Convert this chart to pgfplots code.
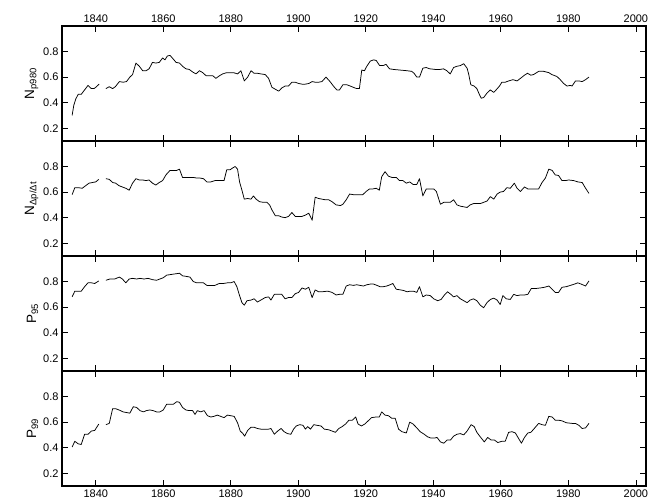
\documentclass[border=0pt]{standalone}
\usepackage{fontspec}
\setmainfont{Liberation Sans}
\usepackage{pgfplots}
\pgfplotsset{compat=1.18}
\pgfplotsset{
  panel/.style={
    scale only axis, width=584pt, height=115pt,
    xmin=1830, xmax=2003, ymin=0.1, ymax=1.0,
    xtick={1840,1860,...,2000}, ytick={0.2,0.4,0.6,0.8},
    tick align=inside, xtick pos=both, ytick pos=both,
    yticklabel pos=left,
    major tick length=6pt,
    axis line style={line width=1.1pt},
    every tick/.style={black, line width=0.7pt},
    tick label style={font=\fontsize{11}{13}\selectfont},
    yticklabel style={/pgf/number format/fixed, /pgf/number format/precision=1, /pgf/number format/fixed zerofill},
    /pgf/number format/assume math mode=true,
    scaled ticks=false,
    xticklabel={\pgfmathprintnumber[1000 sep={}]{\tick}},
    ylabel style={font=\fontsize{13.5}{15}\selectfont, yshift=-2pt},
    unbounded coords=jump,
    clip=false,
  },
  dline/.style={black, line width=0.75pt, line join=round},
}
\begin{document}
\begin{tikzpicture}
\path[use as bounding box] (0,0) rectangle (661pt,501pt);
% Panel 1
\begin{axis}[panel, at={(62pt,360pt)}, anchor=south west,
  xticklabel pos=upper, ylabel={N\textsubscript{p980}}]
\addplot[dline] coordinates {
(1833,0.30) (1833.5,0.38) (1834.1,0.43) (1834.8,0.465) (1835.7,0.465) (1836.7,0.50) (1837.7,0.535) (1838.7,0.51) (1839.5,0.51) (1840.2,0.525) (1841,0.545)
(1842,nan)
(1843,0.51) (1844,0.525) (1845,0.51) (1845.8,0.525) (1847,0.565) (1848.1,0.56) (1849.1,0.565) (1850.1,0.60) (1850.9,0.62) (1851.9,0.71) (1852.9,0.685) (1853.9,0.65) (1854.9,0.65) (1855.8,0.665) (1856.8,0.715) (1857.8,0.71) (1858.8,0.715) (1859.8,0.75) (1860.5,0.735) (1861.2,0.765) (1862,0.77) (1863,0.74) (1863.8,0.715) (1864.8,0.71) (1865.7,0.685) (1866.7,0.665) (1867.7,0.66) (1868.7,0.64) (1869.7,0.625) (1870.7,0.65) (1871.7,0.635) (1872.7,0.61) (1873.7,0.61) (1874.7,0.61) (1875.6,0.59) (1876.6,0.61) (1877.6,0.625) (1878.8,0.635) (1879.8,0.635) (1880.8,0.635) (1882,0.625) (1883,0.65) (1884,0.57) (1885,0.60) (1886,0.65) (1886.9,0.63) (1887.9,0.63) (1888.9,0.625) (1890.2,0.62) (1891.2,0.59) (1892.2,0.52) (1893.2,0.505) (1894.2,0.49) (1895.1,0.515) (1896.1,0.53) (1897.1,0.53) (1898.1,0.56) (1899.1,0.56) (1900.1,0.55) (1901.1,0.545) (1902.1,0.545) (1903.1,0.55) (1904.1,0.565) (1905,0.56) (1906,0.56) (1907,0.565) (1908.2,0.60) (1909.4,0.565) (1910.4,0.53) (1911.4,0.50) (1912.2,0.50) (1913.2,0.54) (1914.4,0.54) (1915.4,0.53) (1916.3,0.52) (1917.3,0.51) (1918.1,0.51) (1918.8,0.655) (1919.6,0.65) (1920.3,0.685) (1921.3,0.725) (1922.3,0.735) (1923.1,0.73) (1924.1,0.69) (1925.1,0.69) (1926,0.70) (1927,0.665) (1928.2,0.66) (1930.2,0.655) (1932.2,0.65) (1933.6,0.645) (1934.3,0.63) (1935.1,0.60) (1935.9,0.60) (1936.9,0.67) (1937.9,0.675) (1938.9,0.665) (1940.6,0.66) (1942,0.66) (1943,0.665) (1944,0.65) (1945,0.625) (1946,0.675) (1947,0.685) (1948,0.69) (1949,0.705) (1950,0.67) (1950.5,0.62) (1951.1,0.54) (1952.1,0.53) (1952.9,0.51) (1953.7,0.46) (1954.2,0.435) (1954.9,0.44) (1955.9,0.475) (1956.9,0.50) (1957.9,0.48) (1958.6,0.50) (1959.6,0.53) (1960.3,0.56) (1961.3,0.56) (1962.3,0.57) (1963.6,0.58) (1964.8,0.57) (1965.8,0.59) (1967,0.615) (1967.9,0.63) (1968.9,0.615) (1969.7,0.62) (1971.2,0.645) (1972.7,0.645) (1974.2,0.635) (1975.1,0.62) (1976.6,0.605) (1977.6,0.58) (1978.6,0.55) (1979.6,0.53) (1980.6,0.535) (1981.1,0.53) (1982.1,0.57) (1983.1,0.57) (1984.1,0.565) (1985.1,0.58) (1986.1,0.60)
};
\end{axis}
% Panel 2
\begin{axis}[panel, at={(62pt,245pt)}, anchor=south west,
  xticklabels={}, ylabel={N\textsubscript{Δp/Δt}}]
\addplot[dline] coordinates {
(1833,0.58) (1833.8,0.635) (1834.8,0.635) (1836,0.63) (1837,0.65) (1838,0.67) (1839,0.675) (1840,0.68) (1840.9,0.70)
(1842,nan)
(1843,0.705) (1844,0.70) (1845,0.675) (1845.9,0.67) (1846.9,0.65) (1847.9,0.64) (1848.9,0.63) (1849.9,0.615) (1850.9,0.67) (1851.9,0.705) (1852.9,0.695) (1853.9,0.695) (1854.9,0.69) (1855.8,0.695) (1856.8,0.67) (1857.8,0.655) (1858.8,0.675) (1859.8,0.69) (1860.8,0.735) (1862,0.77) (1863,0.77) (1864,0.77) (1864.8,0.78) (1865.7,0.715) (1866.7,0.715) (1867.9,0.715) (1868.9,0.715) (1869.9,0.71) (1870.9,0.71) (1871.9,0.705) (1872.9,0.68) (1874.1,0.68) (1875.3,0.69) (1876.8,0.69) (1878,0.69) (1878.8,0.775) (1879.8,0.775) (1880.6,0.79) (1881.3,0.80) (1882,0.78) (1882.6,0.68) (1883.3,0.615) (1884,0.545) (1885,0.55) (1886,0.545) (1886.7,0.57) (1887.5,0.545) (1888.5,0.525) (1889.7,0.52) (1890.7,0.52) (1891.5,0.50) (1892.2,0.46) (1893.2,0.415) (1894.2,0.415) (1895.1,0.405) (1896.1,0.40) (1897.1,0.41) (1898.1,0.44) (1899.1,0.41) (1900.1,0.41) (1901.1,0.41) (1902.1,0.42) (1903.1,0.435) (1904.1,0.38) (1905,0.56) (1906,0.55) (1907,0.545) (1908,0.54) (1909,0.54) (1910,0.525) (1911.2,0.50) (1912.5,0.495) (1913.2,0.505) (1914.2,0.54) (1915.2,0.585) (1916.3,0.58) (1917.8,0.58) (1919.1,0.58) (1920.1,0.605) (1921.1,0.625) (1922.1,0.625) (1923.1,0.63) (1924,0.615) (1924.7,0.72) (1925.7,0.76) (1926.7,0.725) (1927.7,0.715) (1929,0.715) (1930,0.69) (1931,0.69) (1932,0.67) (1933,0.68) (1934,0.66) (1935.1,0.66) (1935.9,0.705) (1936.9,0.57) (1937.9,0.625) (1938.9,0.625) (1940.1,0.625) (1940.9,0.605) (1942.1,0.505) (1943.1,0.52) (1944,0.52) (1945,0.52) (1946,0.54) (1947,0.50) (1948,0.49) (1949,0.485) (1950,0.48) (1950.9,0.50) (1951.9,0.51) (1952.9,0.51) (1953.9,0.51) (1954.9,0.52) (1955.9,0.53) (1956.9,0.565) (1957.9,0.545) (1958.9,0.585) (1959.8,0.60) (1960.8,0.605) (1961.8,0.635) (1962.8,0.63) (1964,0.67) (1964.8,0.63) (1965.8,0.605) (1967,0.64) (1968,0.625) (1969.7,0.625) (1971.2,0.625) (1972.2,0.675) (1973.2,0.71) (1974.2,0.78) (1975.2,0.77) (1976.1,0.735) (1977.1,0.73) (1978.1,0.69) (1979.1,0.69) (1980.1,0.695) (1981.6,0.69) (1982.8,0.68) (1984.1,0.675) (1985.1,0.63) (1986.1,0.59)
};
\end{axis}
% Panel 3
\begin{axis}[panel, at={(62pt,130pt)}, anchor=south west,
  xticklabels={}, ylabel={P\textsubscript{95}}]
\addplot[dline] coordinates {
(1833,0.68) (1833.8,0.725) (1834.8,0.725) (1835.7,0.725) (1836.7,0.76) (1837.7,0.79) (1838.7,0.79) (1839.7,0.785) (1840.9,0.805)
(1842,nan)
(1843,0.81) (1844.2,0.82) (1845.6,0.82) (1847,0.835) (1847.9,0.82) (1848.9,0.79) (1849.9,0.82) (1850.9,0.825) (1852.1,0.82) (1853.1,0.825) (1854.3,0.82) (1855.5,0.825) (1856.8,0.815) (1858,0.81) (1859,0.82) (1860,0.83) (1861,0.85) (1862.2,0.855) (1863.5,0.86) (1864.8,0.865) (1865.7,0.845) (1866.9,0.84) (1867.9,0.835) (1868.9,0.80) (1869.9,0.79) (1870.9,0.79) (1871.9,0.79) (1872.9,0.77) (1874.1,0.77) (1875.3,0.77) (1876.6,0.785) (1877.8,0.785) (1879,0.79) (1880,0.79) (1881,0.80) (1881.8,0.76) (1882.6,0.69) (1883.3,0.635) (1884,0.615) (1884.8,0.65) (1886,0.655) (1886.9,0.665) (1887.9,0.64) (1888.9,0.655) (1890.2,0.675) (1891.2,0.68) (1891.9,0.655) (1892.9,0.70) (1894.2,0.70) (1895.1,0.70) (1896.1,0.665) (1897.1,0.675) (1898.1,0.675) (1899.1,0.705) (1900.1,0.715) (1901.1,0.75) (1902.1,0.74) (1903.1,0.755) (1904.1,0.675) (1905,0.735) (1906,0.72) (1907,0.72) (1908.7,0.725) (1910,0.715) (1911.2,0.695) (1912.2,0.70) (1913.2,0.70) (1914.2,0.765) (1915.2,0.775) (1916.3,0.77) (1917.3,0.775) (1918.3,0.77) (1919.3,0.765) (1920.3,0.775) (1921.3,0.78) (1922.3,0.78) (1923.3,0.77) (1924.2,0.76) (1925.2,0.76) (1926.2,0.765) (1927.2,0.775) (1928,0.785) (1929,0.74) (1930.2,0.735) (1931.2,0.73) (1932.2,0.72) (1933.2,0.725) (1934.1,0.725) (1935.1,0.715) (1935.9,0.76) (1936.9,0.68) (1937.9,0.695) (1939.1,0.69) (1940.1,0.665) (1941.3,0.65) (1942.3,0.66) (1943.3,0.695) (1944.2,0.72) (1945.2,0.70) (1946,0.68) (1947,0.69) (1948,0.665) (1949,0.65) (1950,0.635) (1950.9,0.655) (1951.9,0.665) (1952.9,0.65) (1953.9,0.615) (1954.9,0.595) (1955.9,0.635) (1956.9,0.66) (1957.9,0.67) (1958.9,0.655) (1959.8,0.62) (1960.6,0.69) (1961.6,0.665) (1962.8,0.66) (1963.8,0.70) (1964.8,0.69) (1965.8,0.695) (1967,0.695) (1968,0.70) (1969,0.745) (1970.2,0.745) (1971.7,0.75) (1972.9,0.755) (1974.2,0.765) (1975.2,0.74) (1976.1,0.715) (1977.1,0.715) (1978.1,0.755) (1979.4,0.76) (1980.6,0.77) (1981.8,0.78) (1982.8,0.79) (1983.8,0.78) (1985.1,0.765) (1986.1,0.805)
};
\end{axis}
% Panel 4
\begin{axis}[panel, at={(62pt,15pt)}, anchor=south west,
  xticklabel pos=lower, ylabel={P\textsubscript{99}}]
\addplot[dline] coordinates {
(1833,0.405) (1833.8,0.45) (1834.8,0.43) (1835.7,0.425) (1836.7,0.505) (1837.7,0.505) (1838.7,0.53) (1839.7,0.535) (1840.9,0.585)
(1842,nan)
(1843,0.58) (1844,0.59) (1845,0.705) (1845.9,0.705) (1846.9,0.695) (1848.1,0.68) (1849.1,0.675) (1850.1,0.67) (1851.1,0.72) (1852.1,0.715) (1853.1,0.69) (1854.1,0.68) (1855,0.69) (1856,0.695) (1857,0.69) (1858,0.68) (1859,0.68) (1860,0.695) (1861,0.74) (1862,0.74) (1863,0.74) (1864,0.76) (1864.8,0.755) (1865.7,0.715) (1866.7,0.695) (1867.7,0.69) (1868.7,0.69) (1869.4,0.66) (1870.1,0.69) (1871.1,0.68) (1872.1,0.69) (1873.1,0.65) (1874.1,0.64) (1875,0.645) (1876,0.655) (1877,0.645) (1878,0.635) (1879,0.655) (1880,0.65) (1881,0.645) (1882,0.595) (1882.8,0.53) (1883.6,0.51) (1884.1,0.49) (1885,0.535) (1886,0.56) (1886.9,0.56) (1887.9,0.55) (1888.9,0.545) (1890.2,0.545) (1891.2,0.545) (1891.9,0.55) (1892.9,0.505) (1893.9,0.53) (1894.9,0.55) (1895.8,0.525) (1896.8,0.51) (1897.8,0.505) (1898.6,0.545) (1899.4,0.57) (1900.4,0.58) (1901.4,0.575) (1902.1,0.545) (1902.8,0.565) (1903.6,0.545) (1904.6,0.58) (1905.5,0.575) (1906.7,0.57) (1907.7,0.545) (1909,0.54) (1910,0.53) (1911,0.52) (1912,0.55) (1913,0.565) (1914,0.585) (1915,0.615) (1916,0.615) (1917,0.64) (1917.7,0.585) (1918.7,0.57) (1919.7,0.585) (1920.7,0.61) (1921.7,0.635) (1923,0.64) (1924,0.64) (1924.7,0.68) (1925.7,0.655) (1926.7,0.65) (1927.7,0.63) (1928.7,0.63) (1929.7,0.545) (1930.7,0.525) (1932,0.515) (1933,0.60) (1934,0.585) (1935.1,0.555) (1936.1,0.525) (1937.3,0.505) (1938.3,0.485) (1939.3,0.475) (1940.3,0.475) (1941.1,0.48) (1942.1,0.445) (1943.1,0.435) (1944.1,0.46) (1945.1,0.46) (1946,0.49) (1947,0.505) (1948,0.51) (1949,0.50) (1950,0.53) (1951.2,0.58) (1952.1,0.565) (1952.9,0.52) (1953.9,0.485) (1955.1,0.445) (1956.1,0.48) (1957.1,0.46) (1958.1,0.46) (1959.1,0.44) (1960.3,0.45) (1961.3,0.45) (1962.3,0.52) (1963.3,0.525) (1964.3,0.515) (1965.3,0.47) (1966.1,0.435) (1967,0.48) (1968,0.515) (1968.9,0.52) (1969.9,0.55) (1971.2,0.59) (1972.2,0.58) (1973.2,0.575) (1974.2,0.645) (1975.2,0.64) (1976.1,0.615) (1977.1,0.615) (1978.1,0.61) (1979.4,0.595) (1981.1,0.59) (1982.1,0.59) (1983.1,0.575) (1984.1,0.55) (1985.1,0.555) (1986.1,0.59)
};
\end{axis}
\end{tikzpicture}
\end{document}
